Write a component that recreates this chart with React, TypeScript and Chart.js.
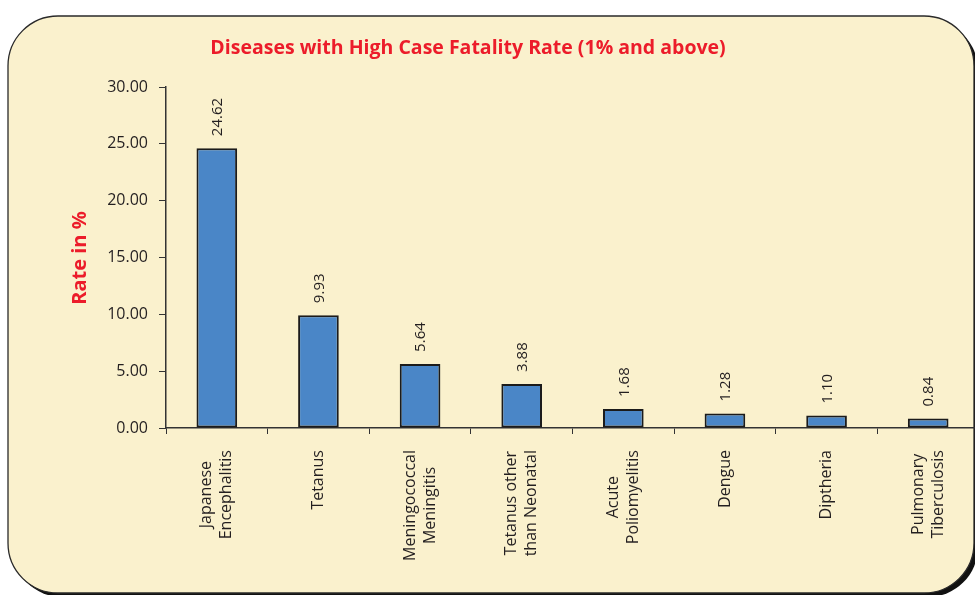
import React, { useEffect, useRef } from "react";
import { Chart, registerables } from "chart.js";

Chart.register(...registerables);

const titleText = "Diseases with High Case Fatality Rate (1% and above)";
const yAxisTitle = "Rate in %";
const categories: string[][] = [
  ["Japanese", "Encephalitis"],
  ["Tetanus"],
  ["Meningococcal", "Meningitis"],
  ["Tetanus other", "than Neonatal"],
  ["Acute", "Poliomyelitis"],
  ["Dengue"],
  ["Diptheria"],
  ["Pulmonary", "Tiberculosis"],
];
const values: number[] = [24.62, 9.93, 5.64, 3.88, 1.68, 1.28, 1.1, 0.84];
const yMin = 0;
const yMax = 30;
const yStep = 5;

const RED = "#ec1c2a";
const DARK = "#231f20";
const CREAM = "#faf1cd";
const BLUE = "#4a86c7";

const W = 990;
const H = 595;

const panelPlugin = {
  id: "panel",
  beforeDraw(chart: any) {
    const ctx = chart.ctx;
    const x = 8, y = 16, w = 966, h = 577, r = 50;
    ctx.save();
    ctx.fillStyle = "#ffffff";
    ctx.fillRect(0, 0, chart.width, chart.height);
    ctx.beginPath();
    ctx.roundRect(x + 4, y + 4, w, h, r);
    ctx.fillStyle = "#111111";
    ctx.fill();
    ctx.beginPath();
    ctx.roundRect(x, y, w, h, r);
    ctx.fillStyle = CREAM;
    ctx.fill();
    ctx.lineWidth = 1.3;
    ctx.strokeStyle = "#2a2a2a";
    ctx.stroke();
    ctx.restore();
  },
};

const textPlugin = {
  id: "texts",
  afterDraw(chart: any) {
    const ctx = chart.ctx;
    const xs = chart.scales.x;
    ctx.save();
    // title
    ctx.fillStyle = RED;
    ctx.font = "bold 19.5px 'Open Sans'";
    ctx.textAlign = "center";
    ctx.textBaseline = "middle";
    ctx.fillText(titleText, 468, 48);
    // y title
    ctx.save();
    ctx.translate(80, 258);
    ctx.rotate(-Math.PI / 2);
    ctx.font = "bold 20px 'Open Sans'";
    ctx.fillText(yAxisTitle, 0, 0);
    ctx.restore();
    // x labels
    ctx.fillStyle = DARK;
    ctx.font = "16px 'Open Sans'";
    const lh = 20;
    categories.forEach((lines, i) => {
      const cx = xs.getPixelForValue(i);
      const maxW = Math.max(...lines.map((l) => ctx.measureText(l).width));
      ctx.save();
      ctx.translate(cx, 450);
      ctx.rotate(-Math.PI / 2);
      ctx.textAlign = "center";
      ctx.textBaseline = "middle";
      lines.forEach((l, j) => {
        ctx.fillText(l, -maxW / 2, (j - (lines.length - 1) / 2) * lh);
      });
      ctx.restore();
    });
    // value labels
    const meta = chart.getDatasetMeta(0);
    ctx.font = "15px 'Open Sans'";
    meta.data.forEach((bar: any, i: number) => {
      ctx.save();
      ctx.translate(bar.x + 1, bar.y - 12);
      ctx.rotate(-Math.PI / 2);
      ctx.textAlign = "left";
      ctx.textBaseline = "middle";
      ctx.fillText(values[i].toFixed(2), 0, 0);
      ctx.restore();
    });
    ctx.restore();
  },
};

export default function App() {
  const ref = useRef<HTMLCanvasElement>(null);
  useEffect(() => {
    if (!ref.current) return;
    const chart = new Chart(ref.current, {
      type: "bar",
      data: {
        labels: categories.map((c) => c.join(" ")),
        datasets: [
          {
            data: values,
            backgroundColor: BLUE,
            borderColor: "#1b1b1b",
            borderWidth: 2,
            borderSkipped: false,
            barPercentage: 0.4,
            categoryPercentage: 1,
          },
        ],
      },
      options: {
        animation: false,
        responsive: false,
        devicePixelRatio: 1,
        layout: { padding: { left: 0, right: 11, top: 87, bottom: 0 } },
        plugins: {
          legend: { display: false },
          title: { display: false },
          tooltip: { enabled: false },
        },
        scales: {
          x: {
            grid: {
              drawOnChartArea: false,
              drawTicks: true,
              tickLength: 6,
              color: "#333333",
              offset: true,
            },
            border: { color: "#333333", width: 1.5 },
            ticks: { display: true, autoSkip: false, maxRotation: 0, callback: () => "", color: "rgba(0,0,0,0)" },
            afterFit: (s: any) => {
              s.height = 167;
            },
          },
          y: {
            min: yMin,
            max: yMax,
            grid: {
              drawOnChartArea: false,
              drawTicks: true,
              tickLength: 7,
              color: "#333333",
            },
            border: { color: "#333333", width: 1.5 },
            ticks: {
              stepSize: yStep,
              padding: 11,
              color: DARK,
              font: { family: "'Open Sans'", size: 16 },
              callback: (v: any) => Number(v).toFixed(2),
            },
            afterFit: (s: any) => {
              s.width = 166;
            },
          },
        },
      },
      plugins: [panelPlugin, textPlugin],
    });
    return () => chart.destroy();
  }, []);
  return (
    <div style={{ position: "fixed", left: 0, top: 0, width: W, height: H, overflow: "hidden" }}>
      <canvas ref={ref} width={W} height={H} style={{ display: "block" }} />
    </div>
  );
}
